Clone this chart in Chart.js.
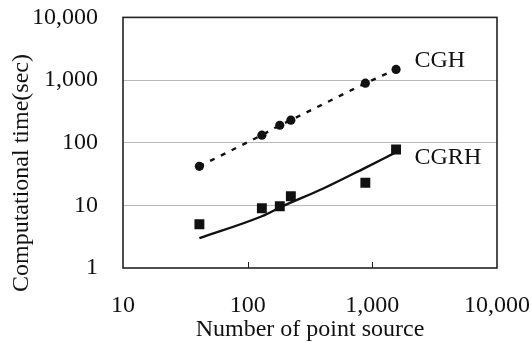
<!DOCTYPE html>
<html>
<head>
<meta charset="utf-8">
<script src="https://cdn.jsdelivr.net/npm/chart.js@4"></script>
<style>
  html, body { margin: 0; padding: 0; background: #fff; }
  #wrap { width: 532px; height: 346px; }
</style>
</head>
<body>
<div id="wrap"><canvas id="timeChart" width="532" height="346"></canvas></div>
<script>
// values (log-log)
const pointSources = [41, 130, 181, 222, 879, 1550];
const cghTime = [42, 132, 190, 229, 890, 1480];
const cgrhTime = [5.0, 9.0, 9.7, 14, 23, 78];
const fitSources = [41, 130, 185, 400, 861, 1500];
const fitTime = [3.0, 6.7, 9.4, 18.4, 39, 68];
const xTicks = [10, 100, 1000, 10000];
const yTicks = [1, 10, 100, 1000, 10000];
const seriesNames = ["CGH", "CGRH"];
const yTitle = "Computational time(sec)";

const serif = "'Liberation Serif', 'DejaVu Serif', serif";
const ink = "#111";

function pairs(xs, ys) {
    return xs.map(function (x, i) { return { x: x, y: ys[i] }; });
}

// frame, inner ticks on the x axis, y title and the series names
const decorations = {
    id: "decorations",
    afterDraw: function (chart) {
        const ctx = chart.ctx;
        const a = chart.chartArea;
        const xs = chart.scales.x, ys = chart.scales.y;
        ctx.save();
        ctx.strokeStyle = "#222";
        ctx.lineWidth = 1.6;
        ctx.strokeRect(a.left, a.top, a.right - a.left, a.bottom - a.top);
        ctx.lineWidth = 1;
        [100, 1000].forEach(function (v) {
            const px = Math.round(xs.getPixelForValue(v)) + 0.5;
            ctx.beginPath();
            ctx.moveTo(px, a.bottom);
            ctx.lineTo(px, a.bottom - 6);
            ctx.stroke();
        });
        ctx.fillStyle = ink;
        ctx.font = "24px " + serif;
        ctx.textBaseline = "middle";
        ctx.textAlign = "left";
        ctx.fillText(seriesNames[0], xs.getPixelForValue(2180), ys.getPixelForValue(2070));
        ctx.fillText(seriesNames[1], xs.getPixelForValue(2180), ys.getPixelForValue(57));
        ctx.translate(22, 173);
        ctx.rotate(-Math.PI / 2);
        ctx.textAlign = "center";
        ctx.fillText(yTitle, 0, 0);
        ctx.restore();
    }
};

new Chart(document.getElementById("timeChart"), {
    type: "scatter",
    data: {
        datasets: [{
            label: seriesNames[0],
            data: pairs(pointSources, cghTime),
            showLine: true,
            borderColor: ink,
            borderWidth: 2.4,
            borderDash: [5, 7],
            backgroundColor: ink,
            pointStyle: "circle",
            pointRadius: 4.6,
            pointBorderWidth: 0
        }, {
            label: seriesNames[1],
            data: pairs(pointSources, cgrhTime),
            showLine: false,
            backgroundColor: ink,
            borderColor: ink,
            pointStyle: "rect",
            pointRadius: 7,
            pointBorderWidth: 0
        }, {
            label: "CGRH fit",
            data: pairs(fitSources, fitTime),
            showLine: true,
            borderColor: ink,
            borderWidth: 2.4,
            pointRadius: 0,
            cubicInterpolationMode: "monotone"
        }]
    },
    options: {
        responsive: false,
        animation: false,
        layout: { padding: { left: 0, top: 17, right: 35, bottom: 0 } },
        plugins: { legend: { display: false }, tooltip: { enabled: false } },
        scales: {
            x: {
                type: "logarithmic",
                min: 10,
                max: 10000,
                afterBuildTicks: function (s) { s.ticks = xTicks.map(function (v) { return { value: v }; }); },
                afterFit: function (s) { s.height = 78; },
                grid: { color: "rgba(0,0,0,0)", drawTicks: true, tickLength: 22, tickColor: "rgba(0,0,0,0)" },
                border: { display: false },
                ticks: {
                    padding: 1,
                    color: ink,
                    maxRotation: 0,
                    autoSkip: false,
                    font: { family: serif, size: 24 },
                    callback: function (v) { return Number(v).toLocaleString("en-US"); }
                },
                title: {
                    display: true,
                    text: "Number of point source",
                    color: ink,
                    padding: { top: 0, bottom: 2 },
                    font: { family: serif, size: 24 }
                }
            },
            y: {
                type: "logarithmic",
                min: 1,
                max: 10000,
                afterBuildTicks: function (s) { s.ticks = yTicks.map(function (v) { return { value: v }; }); },
                afterFit: function (s) { s.width = 123; },
                grid: {
                    drawTicks: true,
                    tickLength: 22,
                    tickColor: "rgba(0,0,0,0)",
                    color: function (c) {
                        const v = c.tick ? c.tick.value : 0;
                        return (v === 1 || v === 10000) ? "rgba(0,0,0,0)" : "#b8b8b8";
                    },
                    lineWidth: 1
                },
                border: { display: false },
                ticks: {
                    padding: 3,
                    color: ink,
                    autoSkip: false,
                    font: { family: serif, size: 24 },
                    callback: function (v) { return Number(v).toLocaleString("en-US"); }
                }
            }
        }
    },
    plugins: [decorations]
});
</script>
</body>
</html>
